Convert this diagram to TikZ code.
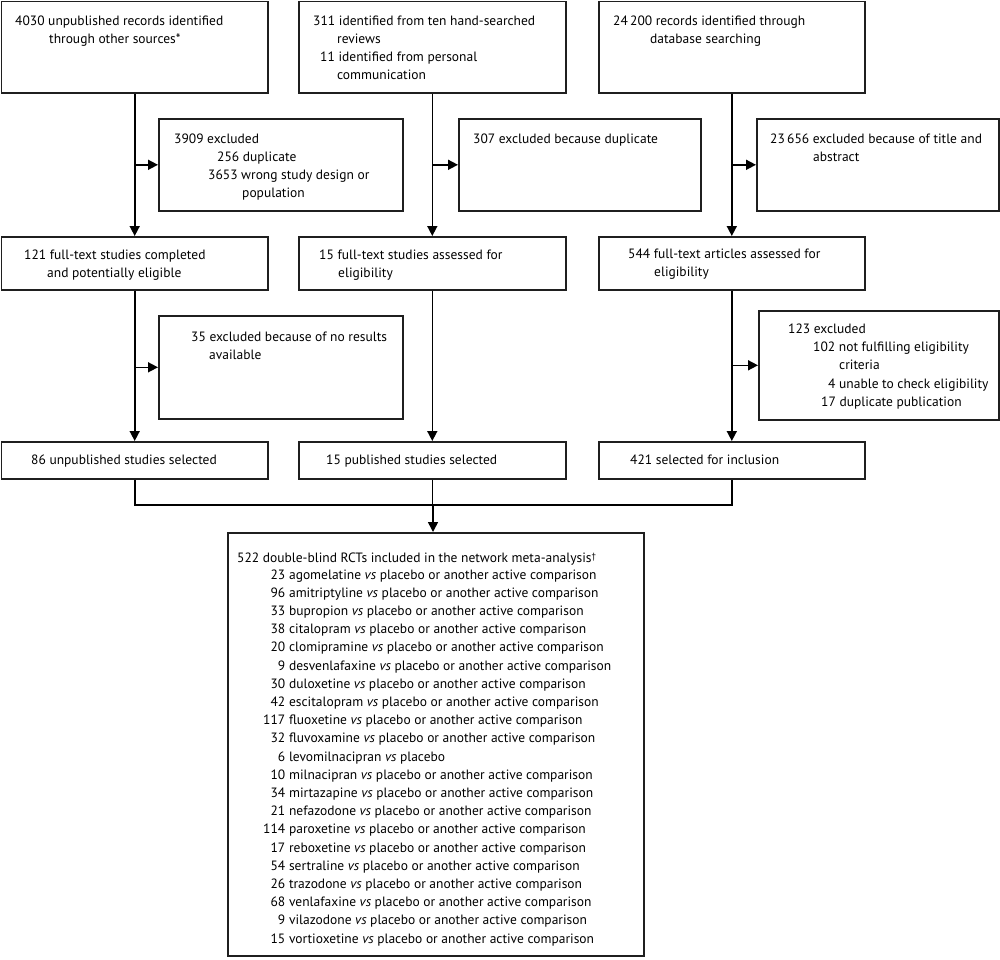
\documentclass[tikz,border=0pt]{standalone}
\usepackage{fontspec}
\setmainfont{PT Sans}
\usetikzlibrary{arrows.meta}
\newcommand{\bx}[5]{\node[box, minimum width=#4pt, minimum height=#5pt, anchor=north west] (#1) at (#2,#3) {};}
\newcommand{\tl}[4]{\node[txt] (#1) at (#2,#3) {#4};}
\begin{document}
\begin{tikzpicture}[x=1pt,y=-1pt,
  box/.style={draw=black!88, line width=1.6pt, inner sep=0pt, fill=white},
  txt/.style={anchor=base west, inner sep=0pt, text=black, font=\fontsize{13.5}{18.2}\selectfont},
  arr/.style={draw=black, line width=1.6pt, -{Triangle[length=10pt,width=10pt]}},
  ln/.style={draw=black, line width=1.6pt}]
\useasboundingbox (0,0) rectangle (1000,959);
% top row
\bx{A}{0.8}{0.8}{266.2}{91.2}
\bx{B}{298}{0.8}{267}{91.2}
\bx{C}{598}{0.8}{266}{91.2}
% first excluded row
\bx{E1}{158}{118}{244}{92}
\bx{E2}{458}{118}{242}{92}
\bx{E3}{756}{118}{242}{92}
% middle row
\bx{M1}{0.8}{236}{266.2}{53}
\bx{M2}{298}{236}{267}{53}
\bx{M3}{598}{236}{266}{53}
% second excluded row
\bx{E4}{158}{315}{244}{103}
\bx{E5}{758}{310}{240}{109}
% selected row
\bx{S1}{0.8}{441}{266.2}{37}
\bx{S2}{298}{441}{267}{37}
\bx{S3}{598}{441}{266}{37}
% final box
\bx{F}{227}{532}{416}{423}

% texts
\tl{a1}{15}{25}{4030 unpublished records identified}
\tl{a2}{49}{43}{through other sources*}
\tl{b1}{313}{25}{311 identified from ten hand-searched}
\tl{b2}{337}{43}{reviews}
\tl{b3}{320}{61}{11 identified from personal}
\tl{b4}{337}{79}{communication}
\tl{c1}{613}{25}{24\,200 records identified through}
\tl{c2}{650}{43}{database searching}
\tl{e11}{174}{143}{3909 excluded}
\tl{e12}{217}{161}{256 duplicate}
\tl{e13}{208}{179}{3653 wrong study design or}
\tl{e14}{242}{197}{population}
\tl{e21}{473}{143}{307 excluded because duplicate}
\tl{e31}{770}{143}{23\,656 excluded because of title and}
\tl{e32}{813}{161}{abstract}
\tl{m11}{24}{259}{121 full-text studies completed}
\tl{m12}{47}{277}{and potentially eligible}
\tl{m21}{319}{259}{15 full-text studies assessed for}
\tl{m22}{338}{277}{eligibility}
\tl{m31}{628}{258}{544 full-text articles assessed for}
\tl{m32}{654}{276}{eligibility}
\tl{e41}{191}{341}{35 excluded because of no results}
\tl{e42}{209}{359}{available}
\tl{e51}{788}{333}{123 excluded}
\tl{e52}{813}{351}{102 not fulfilling eligibility}
\tl{e53}{839}{369}{criteria}
\tl{e54}{828}{388}{4 unable to check eligibility}
\tl{e55}{821}{406}{17 duplicate publication}
\tl{s1}{31}{464}{86 unpublished studies selected}
\tl{s2}{326}{464}{15 published studies selected}
\tl{s3}{630}{464}{421 selected for inclusion}
\tl{f0}{237}{562}{522 double-blind RCTs included in the network meta-analysis{\fontsize{9}{9}\selectfont\raisebox{2.5pt}{\dag}}}
\node[txt] (ft) at (263,579) {\begin{tabular}[t]{@{}r@{\hspace{0.28em}}l@{}}
23 & agomelatine \textit{vs} placebo or another active comparison\\
96 & amitriptyline \textit{vs} placebo or another active comparison\\
33 & bupropion \textit{vs} placebo or another active comparison\\
38 & citalopram \textit{vs} placebo or another active comparison\\
20 & clomipramine \textit{vs} placebo or another active comparison\\
9 & desvenlafaxine \textit{vs} placebo or another active comparison\\
30 & duloxetine \textit{vs} placebo or another active comparison\\
42 & escitalopram \textit{vs} placebo or another active comparison\\
117 & fluoxetine \textit{vs} placebo or another active comparison\\
32 & fluvoxamine \textit{vs} placebo or another active comparison\\
6 & levomilnacipran \textit{vs} placebo\\
10 & milnacipran \textit{vs} placebo or another active comparison\\
34 & mirtazapine \textit{vs} placebo or another active comparison\\
21 & nefazodone \textit{vs} placebo or another active comparison\\
114 & paroxetine \textit{vs} placebo or another active comparison\\
17 & reboxetine \textit{vs} placebo or another active comparison\\
54 & sertraline \textit{vs} placebo or another active comparison\\
26 & trazodone \textit{vs} placebo or another active comparison\\
68 & venlafaxine \textit{vs} placebo or another active comparison\\
9 & vilazodone \textit{vs} placebo or another active comparison\\
15 & vortioxetine \textit{vs} placebo or another active comparison
\end{tabular}};

% connectors
\draw[arr] (A.south) -- (M1.north);
\draw[arr] (A.south |- E1.west) -- (E1.west);
\draw[arr] (B.south) -- (M2.north);
\draw[arr] (B.south |- E2.west) -- (E2.west);
\draw[arr] (C.south) -- (M3.north);
\draw[arr] (C.south |- E3.west) -- (E3.west);
\draw[arr] (M1.south) -- (S1.north);
\draw[arr] (M1.south |- E4.west) -- (E4.west);
\draw[arr] (M2.south) -- (S2.north);
\draw[arr] (M3.south) -- (S3.north);
\draw[arr] (M3.south |- E5.west) -- (E5.west);
\coordinate (J) at (433,505);
\draw[ln] (S1.south) |- (J) -| (S3.south);
\draw[ln] (S2.south) -- (S2.south |- J);
\draw[arr] (J) -- (J |- F.north);
\end{tikzpicture}
\end{document}
